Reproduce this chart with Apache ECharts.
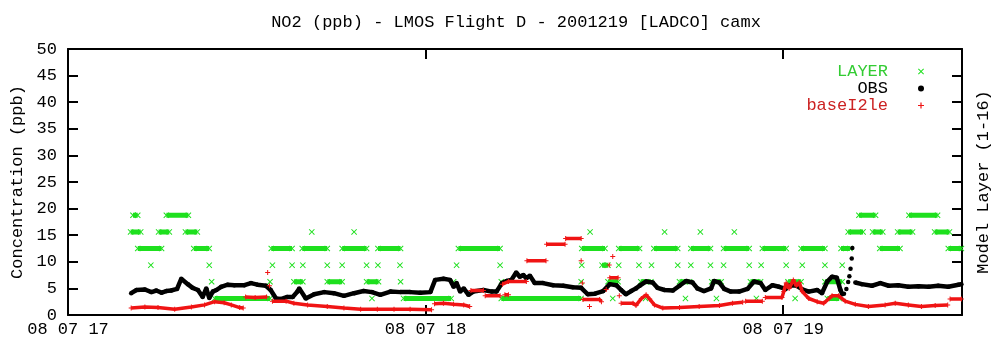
<!DOCTYPE html>
<html>
<head>
<meta charset="utf-8">
<script src="https://cdn.jsdelivr.net/npm/echarts@6/dist/echarts.min.js"></script>
<style>
html, body { margin: 0; padding: 0; background: #fff; }
#chart { width: 1000px; height: 347px; }
</style>
</head>
<body>
<div id="chart"></div>
<script>
// times are minutes after 08/07 17:00, null = gap in the record
var hourLabels = ['08 07 17', '08 07 18', '08 07 19'];
var layerTicks = [3.2, 4.8, 6.4, 8.0, 9.6, 11.2, 12.8, 14.4];

var obsTime = [10.6, 11.5, 12.9, 14.0, 14.8, 15.7, 16.5, 17.3, 18.3, 19.0, 20.1, 20.9, 21.8, 22.6, 23.2, 23.7,
  24.3, 24.9, 25.7, 26.8, 27.9, 29.6, 30.7, 31.8, 33.2, 34.0, 34.9, 35.7, 36.8, 37.7, 38.5, 38.8, 39.9,
  41.3, 43.0, 44.6, 46.3, 48.0, 49.6, 51.0, 52.4, 54.1, 55.8, 57.4, 59.1, 60.8, 61.6, 63.0, 64.1, 64.7,
  65.2, 65.8, 66.4, 67.2, 68.0, 69.7, 71.1, 71.9, 72.8, 73.6, 74.4, 75.2, 75.8, 76.4, 76.9, 77.5, 78.3,
  79.7, 81.4, 83.1, 84.7, 86.1, 87.2, 88.4, 89.8, 90.9, 92.0, 92.8, 93.6, 94.5, 95.3, 95.9, 97.0, 98.1,
  98.9, 100.1, 101.5, 102.6, 103.7, 104.8, 105.6, 106.7, 107.9, 108.4, 109.3, 110.1, 111.2, 112.6, 114.0,
  115.1, 116.2, 117.0, 118.2, 119.3, 120.4, 121.0, 122.1, 123.2, 124.3, 125.7, 126.5, 127.4, 128.2, 129.0,
  129.6, 129.9, null, 130.2, null, 130.6, null, 130.9, null, 131.1, null, 131.3, null, 131.5, null, 131.6, null,
  132.1, 133.2, 134.9, 136.3, 137.7, 139.3, 141.0, 142.7, 144.4, 146.0, 147.7, 149.4, 149.9];
var obsPpb = [4.1, 4.7, 4.8, 4.3, 4.6, 4.2, 4.5, 4.6, 4.9, 6.8, 5.8, 5.1, 4.7, 3.4, 5.0, 3.2,
  4.4, 4.7, 5.3, 5.7, 5.6, 5.6, 6.0, 5.7, 5.5, 4.7, 3.1, 3.0, 3.4, 3.4, 4.4, 5.0, 3.1,
  3.9, 4.3, 4.1, 3.6, 4.1, 4.5, 4.3, 3.8, 4.4, 4.3, 4.3, 4.2, 4.3, 6.6, 6.8, 6.6, 5.3,
  6.0, 4.4, 5.0, 3.8, 4.4, 4.7, 4.4, 4.4, 6.0, 6.4, 6.6, 8.0, 7.2, 7.5, 6.9, 7.4, 6.0,
  6.0, 5.6, 5.5, 5.2, 5.1, 3.9, 4.0, 4.5, 5.8, 5.6, 4.7, 3.9, 4.5, 5.0, 5.5, 6.3, 6.1,
  5.1, 4.7, 4.6, 5.5, 6.4, 6.1, 5.0, 4.5, 5.0, 6.4, 6.1, 4.9, 4.4, 4.4, 4.9,
  6.3, 6.0, 4.7, 5.6, 5.3, 4.9, 5.5, 5.6, 4.8, 4.4, 4.7, 4.1, 6.3, 7.2, 7.0,
  4.7, 3.9, null, 4.0, null, 4.9, null, 6.2, null, 7.3, null, 8.7, null, 10.6, null, 12.6, null,
  6.1, 5.8, 5.5, 6.0, 5.5, 5.6, 5.3, 5.4, 5.3, 5.5, 5.3, 5.7, 5.8];

var baseTime = [10.6, 12.9, 15.1, 17.9, 20.7, 22.9, 24.6, 26.2, 27.4, 28.8, 29.4, null,
  29.8, 31.4, 33.3, null, 33.5, null, 33.8, null,
  34.3, 36.6, 37.9, 40.2, 43.5, 46.3, 49.1, 51.9, 54.7, 57.4, 61.0, null,
  61.5, 63.0, 64.7, 66.4, 67.4, null, 67.6, 69.7, null, 70.0, 72.5, null,
  72.9, 73.9, 76.9, null, 77.0, 80.2, null, 80.3, 83.4, null, 83.5, 86.1, null,
  86.1, null, 86.3, null, 86.4, 89.2, 89.5, null, 90.3, null, 90.8, null, 91.4, null,
  90.9, 92.3, null, 92.5, null, 92.8, 94.8, 95.3, 96.2, 97.0, 97.6, 98.4, 99.8, 102.6, 105.9, 109.3,
  111.5, 113.2, null, 113.7, 116.5, null, 117.0, 119.8, 120.1, 120.5, 121.0, 121.7, 122.2, 122.7,
  123.2, 124.3, 125.7, 126.8, 128.2, 129.3, 130.4, 132.1, 134.3, 137.1, 138.8, 141.0, 143.2, 145.5,
  147.6, null, 148.0, 149.9, null, 73.3, 73.9, null, 87.5];
var basePpb = [1.3, 1.5, 1.4, 1.1, 1.5, 1.9, 2.5, 2.3, 1.9, 1.4, 1.3, null,
  3.4, 3.3, 3.4, null, 8.0, null, 5.5, null,
  2.6, 2.6, 2.2, 1.9, 1.6, 1.3, 1.1, 1.1, 1.1, 1.1, 1.0, null,
  2.1, 2.2, 2.0, 1.9, 1.6, null, 4.6, 4.6, null, 3.6, 3.6, null,
  5.8, 6.3, 6.3, null, 10.2, 10.2, null, 13.3, 13.3, null, 14.4, 14.4, null,
  10.2, null, 6.0, null, 2.9, 2.9, 2.5, null, 4.8, null, 9.4, null, 11.0, null,
  7.0, 7.0, null, 3.6, null, 2.2, 2.2, 1.8, 3.1, 3.8, 3.0, 1.9, 1.3, 1.4, 1.6, 1.8,
  2.2, 2.4, null, 2.6, 2.6, null, 3.3, 3.3, 4.4, 6.0, 5.0, 6.6, 5.5, 6.1,
  4.4, 3.1, 2.5, 2.2, 3.6, 3.6, 2.6, 2.0, 1.6, 1.9, 2.2, 1.9, 1.6, 1.8,
  1.9, null, 3.0, 3.0, null, 3.8, 3.8, null, 1.6];

// model layer of the flight: runs [start, end] at one layer
var layerStart = [10.9, 16.5, 132.7, 141.1,
  10.5, 15.2, 19.7, 40.9, 48.0, 87.6, 100.1, 106.1, 111.8, 130.9, 135.0, 139.2, 145.4,
  11.7, 21.1, 34.1, 39.3, 46.0, 52.0, 65.5, 86.2, 92.4, 98.3, 104.5, 110.0, 116.5, 123.0, 129.7, 136.2, 147.7,
  13.9, 23.7, 34.3, 37.6, 39.4, 43.5, 46.0, 50.1, 52.0, 55.7, 65.2, 72.5, 86.2, 89.6, 92.4, 95.8, 97.9,
  102.3, 104.5, 107.8, 110.0, 114.3, 116.3, 120.5, 123.2, 127.0, 129.9,
  24.1, 33.9, 37.9, 43.5, 50.1, 55.8, 64.7, 72.7, 86.1, 90.6, 96.1, 102.6, 108.0, 114.5, 120.8, 127.0,
  24.6, 51.0, 56.3, 72.7, 91.4, 96.9, 103.6, 108.8, 115.5, 122.0, 127.4];
var layerEnd = [11.7, 20.2, 135.5, 145.9,
  12.2, 17.0, 21.7, 40.9, 48.0, 87.6, 100.1, 106.1, 111.8, 133.4, 136.7, 141.7, 147.9,
  15.7, 23.7, 37.6, 43.5, 50.1, 55.8, 72.5, 90.1, 95.9, 102.3, 107.8, 114.3, 120.5, 127.0, 131.2, 139.6, 149.9,
  13.9, 23.7, 34.3, 37.6, 39.4, 43.5, 46.0, 50.1, 52.0, 55.7, 65.2, 72.5, 86.2, 90.6, 92.4, 95.8, 97.9,
  102.3, 104.5, 107.8, 110.0, 114.3, 116.3, 120.5, 123.2, 127.0, 129.9,
  24.1, 33.9, 39.4, 46.0, 52.1, 55.8, 64.7, 72.7, 86.1, 92.3, 97.8, 104.3, 109.6, 116.2, 123.0, 129.9,
  33.9, 51.0, 64.3, 86.1, 91.4, 96.9, 103.6, 108.8, 115.5, 122.0, 129.4];
var layerLevel = [6, 6, 6, 6,
  5, 5, 5, 5, 5, 5, 5, 5, 5, 5, 5, 5, 5,
  4, 4, 4, 4, 4, 4, 4, 4, 4, 4, 4, 4, 4, 4, 4, 4, 4,
  3, 3, 3, 3, 3, 3, 3, 3, 3, 3, 3, 3, 3, 3, 3, 3, 3,
  3, 3, 3, 3, 3, 3, 3, 3, 3, 3,
  2, 2, 2, 2, 2, 2, 2, 2, 2, 2, 2, 2, 2, 2, 2, 2,
  1, 1, 1, 1, 1, 1, 1, 1, 1, 1, 1];

var FONT = 'Liberation Mono';
var GREEN = '#1ee01e';
var RED = '#f01414';
var crossPath = 'path://M0,0.7L0.7,0L3,2.3L5.3,0L6,0.7L3.7,3L6,5.3L5.3,6L3,3.7L0.7,6L0,5.3L2.3,3Z';
var plusPath = 'path://M2.4,0H3.6V2.4H6V3.6H3.6V6H2.4V3.6H0V2.4H2.4Z';

function pairs(ts, vs) {
  var out = [], last = 0;
  for (var i = 0; i < ts.length; i++) {
    if (ts[i] === null || vs[i] === null) { out.push([last, '-']); continue; }
    out.push([ts[i], vs[i]]);
    last = ts[i];
  }
  return out;
}

var layerData = [];
for (var i = 0; i < layerStart.length; i++) {
  layerData.push([layerStart[i], layerLevel[i]]);
  if (layerEnd[i] > layerStart[i]) layerData.push([layerEnd[i], layerLevel[i]]);
  layerData.push([layerEnd[i], '-']);
}

var axisLineStyle = { color: '#000', width: 2 };
var txt = { fontFamily: FONT, fontSize: 17, color: '#000' };

var chart = echarts.init(document.getElementById('chart'));
chart.setOption({
  animation: false,
  backgroundColor: '#fff',
  title: {
    text: 'NO2 (ppb) - LMOS Flight D - 2001219 [LADCO] camx',
    left: 516, top: 14, padding: 0, textAlign: 'center',
    textStyle: { fontFamily: FONT, fontSize: 17, fontWeight: 'normal', color: '#000' }
  },
  grid: { left: 68, right: 35, top: 49, bottom: 32 },
  legend: {
    orient: 'vertical', align: 'right', right: 71, top: 58,
    itemWidth: 56, itemHeight: 6, itemGap: 0,
    selectedMode: false,
    textStyle: { fontFamily: FONT, fontSize: 17, lineHeight: 16.5 },
    data: [
      { name: 'LAYER', icon: crossPath, textStyle: { color: '#33cc33' } },
      { name: 'OBS', icon: 'circle', textStyle: { color: '#000' } },
      { name: 'baseI2le', icon: plusPath, textStyle: { color: '#cc2222' } }
    ]
  },
  xAxis: [{
    type: 'value', position: 'bottom', min: 0, max: 150, interval: 60,
    axisLine: { show: true, onZero: false, lineStyle: axisLineStyle },
    axisTick: { show: true, inside: true, length: 10, lineStyle: axisLineStyle },
    axisLabel: {
      showMaxLabel: false, margin: 6, fontFamily: FONT, fontSize: 17, color: '#000',
      formatter: function (v) { return hourLabels[Math.round(v / 60)] || ''; }
    },
    splitLine: { show: false }
  }, {
    type: 'value', position: 'top', min: 0, max: 150, interval: 60,
    axisLine: { show: true, onZero: false, lineStyle: axisLineStyle },
    axisTick: { show: true, inside: true, length: 10, lineStyle: axisLineStyle },
    axisLabel: { show: false },
    splitLine: { show: false }
  }],
  yAxis: [{
    type: 'value', position: 'left', min: 0, max: 50, interval: 5,
    name: 'Concentration (ppb)', nameLocation: 'middle', nameGap: 39, nameRotate: 90,
    nameTextStyle: txt,
    axisLine: { show: true, onZero: false, lineStyle: axisLineStyle },
    axisTick: { show: true, inside: true, length: 10, lineStyle: axisLineStyle },
    axisLabel: { margin: 11, fontFamily: FONT, fontSize: 17, color: '#000' },
    splitLine: { show: false }
  }, {
    type: 'value', position: 'right', min: 0, max: 16,
    name: 'Model Layer (1-16)', nameLocation: 'middle', nameGap: 13, nameRotate: 90,
    nameTextStyle: txt,
    axisLine: { show: true, onZero: false, lineStyle: axisLineStyle },
    axisTick: { show: true, inside: true, length: 10, lineStyle: axisLineStyle, customValues: layerTicks },
    axisLabel: { show: false },
    splitLine: { show: false }
  }],
  series: [{
    name: 'LAYER', type: 'line', xAxisIndex: 0, yAxisIndex: 1, z: 2,
    data: layerData, symbol: crossPath, symbolSize: 6, showSymbol: true,
    lineStyle: { width: 5, color: GREEN }, itemStyle: { color: GREEN }, silent: true
  }, {
    name: 'OBS', type: 'line', xAxisIndex: 0, yAxisIndex: 0, z: 3,
    data: pairs(obsTime, obsPpb), symbol: 'circle', symbolSize: 4.5, showSymbol: true,
    lineStyle: { width: 4.5, color: '#000' }, itemStyle: { color: '#000' }, silent: true
  }, {
    name: 'baseI2le', type: 'line', xAxisIndex: 0, yAxisIndex: 0, z: 4,
    data: pairs(baseTime, basePpb), symbol: plusPath, symbolSize: 5, showSymbol: true,
    lineStyle: { width: 3.5, color: RED }, itemStyle: { color: RED }, silent: true
  }]
});
</script>
</body>
</html>
